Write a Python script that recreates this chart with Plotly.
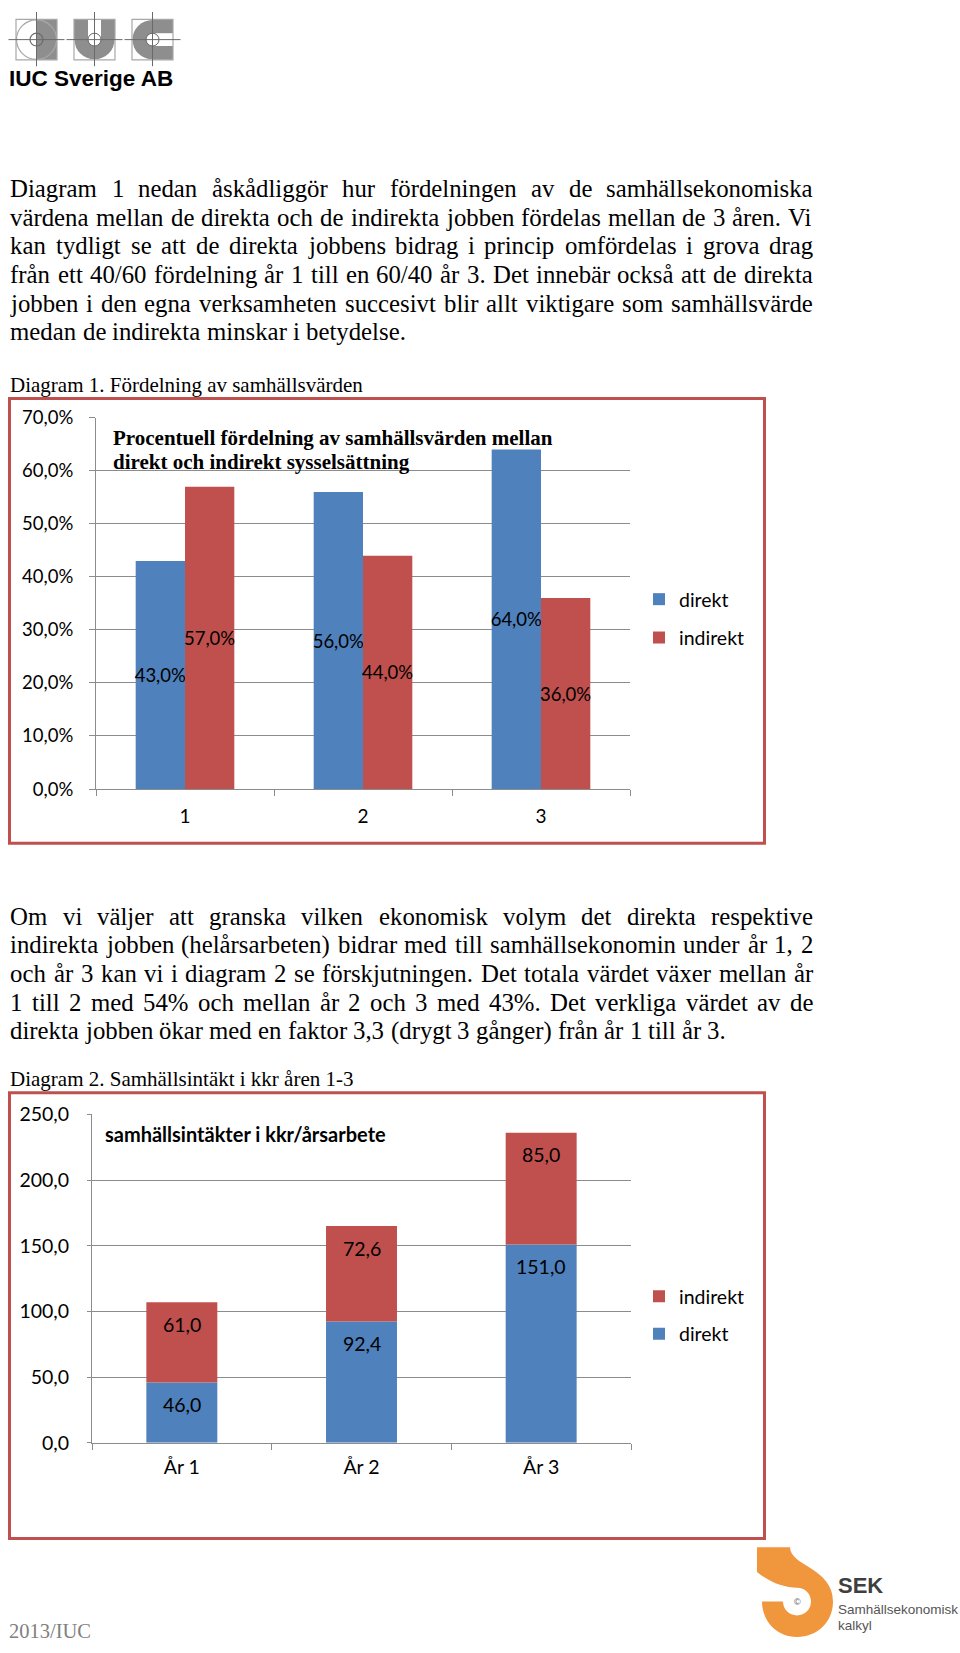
import plotly.graph_objects as go

W, H = 960, 1653

# ---------------- data ----------------
diag1_categories = ["1", "2", "3"]
diag1_direkt = [43.0, 56.0, 64.0]      # percent
diag1_indirekt = [57.0, 44.0, 36.0]    # percent
diag1_yticks = [0, 10, 20, 30, 40, 50, 60, 70]
diag1_yticktext = ["0,0%", "10,0%", "20,0%", "30,0%", "40,0%", "50,0%", "60,0%", "70,0%"]
diag1_title = ["Procentuell fördelning av samhällsvärden mellan",
               "direkt och indirekt sysselsättning"]

diag2_categories = ["År 1", "År 2", "År 3"]
diag2_direkt = [46.0, 92.4, 151.0]     # kkr
diag2_indirekt = [61.0, 72.6, 85.0]    # kkr
diag2_yticks = [0, 50, 100, 150, 200, 250]
diag2_yticktext = ["0,0", "50,0", "100,0", "150,0", "200,0", "250,0"]
diag2_title = "samhällsintäkter i kkr/årsarbete"

para1 = [
    "Diagram 1 nedan åskådliggör hur fördelningen av de samhällsekonomiska",
    "värdena mellan de direkta och de indirekta jobben fördelas mellan de 3 åren. Vi",
    "kan tydligt se att de direkta jobbens bidrag i princip omfördelas i grova drag",
    "från ett 40/60 fördelning år 1 till en 60/40 år 3. Det innebär också att de direkta",
    "jobben i den egna verksamheten succesivt blir allt viktigare som samhällsvärde",
    "medan de indirekta minskar i betydelse.",
]
para2 = [
    "Om vi väljer att granska vilken ekonomisk volym det direkta respektive",
    "indirekta jobben (helårsarbeten) bidrar med till samhällsekonomin under år 1, 2",
    "och år 3 kan vi i diagram 2 se förskjutningen. Det totala värdet växer mellan år",
    "1 till 2 med 54% och mellan år 2 och 3 med 43%. Det verkliga värdet av de",
    "direkta jobben ökar med en faktor 3,3 (drygt 3 gånger) från år 1 till år 3.",
]
caption1 = "Diagram 1. Fördelning av samhällsvärden"
caption2 = "Diagram 2. Samhällsintäkt i kkr åren 1-3"
footer = "2013/IUC"

# ---------------- styles ----------------
BLUE = "#4F81BD"
RED = "#C0504D"
GRID = "#8C8C8C"
SERIF = "Liberation Serif, Times New Roman, serif"
CHART = "Lato, Carlito, sans-serif"
SANS = "Liberation Sans, Arial, sans-serif"


def X(px):
    return px / W


def Y(py):
    return 1 - py / H


def sv(v, d=1):
    return f"{v:.{d}f}".replace(".", ",")


# Times New Roman (Liberation Serif) advance widths, per 1000 em
TIMES = {" ": 250, "!": 333, "%": 833, "(": 333, ")": 333, ",": 250, "-": 333, ".": 250,
         "/": 278, ":": 278, ";": 278,
         "A": 722, "B": 667, "C": 667, "D": 722, "E": 611, "F": 556, "G": 722, "H": 722,
         "I": 333, "J": 389, "K": 722, "L": 611, "M": 889, "N": 722, "O": 722, "P": 556,
         "Q": 722, "R": 667, "S": 556, "T": 611, "U": 722, "V": 722, "W": 944, "X": 722,
         "Y": 722, "Z": 611,
         "a": 444, "b": 500, "c": 444, "d": 500, "e": 444, "f": 333, "g": 500, "h": 500,
         "i": 278, "j": 278, "k": 500, "l": 278, "m": 778, "n": 500, "o": 500, "p": 500,
         "q": 500, "r": 333, "s": 389, "t": 278, "u": 500, "v": 500, "w": 722, "x": 500,
         "y": 500, "z": 444, "å": 444, "ä": 444, "ö": 500, "é": 444}
for dgt in "0123456789":
    TIMES[dgt] = 500


def tw(word, fs):
    return sum(TIMES.get(c, 500) for c in word) / 1000.0 * fs


annotations = []
shapes = []


def text_ann(text, x, y, size, family=SERIF, color="black", xanchor="left", bold=False):
    if bold:
        text = "<b>" + text + "</b>"
    annotations.append(dict(text=text, x=X(x), y=Y(y), xref="paper", yref="paper",
                            xanchor=xanchor, yanchor="middle", showarrow=False,
                            font=dict(family=family, size=size, color=color)))


def justified_paragraph(lines, y0, dy, fs, left=8.4, right=811.0):
    for k, line in enumerate(lines):
        y = y0 + k * dy
        words = line.split(" ")
        widths = [tw(w, fs) for w in words]
        last = (k == len(lines) - 1)
        if not last and len(words) > 1:
            gap = (right - left - sum(widths)) / (len(words) - 1)
        else:
            gap = 0.25 * fs
        x = left
        for w, wd in zip(words, widths):
            text_ann(w, x, y, fs)
            x += wd + gap


def rect(x0, y0, x1, y1, fill=None, color=None, width=0):
    shapes.append(dict(type="rect", xref="paper", yref="paper",
                       x0=X(x0), x1=X(x1), y0=Y(y1), y1=Y(y0),
                       fillcolor=fill if fill else "rgba(0,0,0,0)",
                       line=dict(color=color if color else "rgba(0,0,0,0)", width=width)))


def circ(cx, cy, r, fill=None, color=None, width=0):
    shapes.append(dict(type="circle", xref="paper", yref="paper",
                       x0=X(cx - r), x1=X(cx + r), y0=Y(cy + r), y1=Y(cy - r),
                       fillcolor=fill if fill else "rgba(0,0,0,0)",
                       line=dict(color=color if color else "rgba(0,0,0,0)", width=width)))


def seg(x0, y0, x1, y1, color, width=1):
    shapes.append(dict(type="line", xref="paper", yref="paper",
                       x0=X(x0), x1=X(x1), y0=Y(y0), y1=Y(y1),
                       line=dict(color=color, width=width)))


def path(cmds, fill):
    out = []
    for c in cmds:
        if isinstance(c, str):
            out.append(c)
        else:
            out.append(f"{X(c[0]):.5f},{Y(c[1]):.5f}")
    shapes.append(dict(type="path", xref="paper", yref="paper", path=" ".join(out),
                       fillcolor=fill, line=dict(width=0)))


# ---------------- text blocks ----------------
justified_paragraph(para1, 179.0, 29.1, 24.8)
justified_paragraph(para2, 917.0, 29.0, 24.8)
text_ann(caption1, 8.4, 378.5, 21)
text_ann(caption2, 8.4, 1082.5, 21)
text_ann(footer, 7.0, 1642.0, 20.5, color="#808080")

# chart titles
text_ann(diag1_title[0], 110.5, 432.0, 21, bold=True)
text_ann(diag1_title[1], 110.5, 456.0, 21, bold=True)
text_ann(diag2_title, 103.0, 1138.0, 20, family=CHART, bold=True)

# IUC header
text_ann("IUC Sverige AB", 7.0, 67.0, 22.5, family=SANS, bold=True)
LG = "#8E8E8E"
LL = "#A8A8A8"
LC = "#6A6A6A"
for i, cx in enumerate([36.5, 94.5, 152.5]):
    cy = 28.0
    s = 20.5
    if i == 0:
        rect(cx, cy - s, cx + s, cy + s, fill=LG)
        circ(cx, cy, 20, color=LL, width=1.2)
        circ(cx, cy, 6.5, color=LC, width=1.2)
    elif i == 1:
        rect(cx - s, cy - s, cx + s, cy, fill=LG)
        circ(cx, cy, 20, fill=LG)
        rect(cx - 6.5, cy - s, cx + 6.5, cy, fill="white")
        circ(cx, cy, 6.5, fill="white", color=LC, width=1)
    else:
        rect(cx, cy - s, cx + s, cy + s, fill=LG)
        circ(cx, cy, 20, fill=LG)
        rect(cx, cy - 6.5, cx + s, cy + 6.5, fill="white")
        circ(cx, cy, 6.5, fill="white", color=LC, width=1)
    rect(cx - s, cy - s, cx + s, cy + s, color=LL, width=1.2)
    seg(cx, 0, cx, 55, LC, 1)
    seg(cx - 28, cy, cx + 28, cy, LC, 1)

# SEK logo
ORANGE = "#F0963C"
path(["M", (757, 1557), "L", (790, 1557),
      "C", (790, 1576), (833, 1578), (833, 1612),
      "C", (833, 1633), (817, 1648), (797, 1648),
      "C", (777, 1648), (762, 1632), (762, 1612),
      "L", (783, 1612),
      "C", (783, 1620), (789, 1626), (797, 1626),
      "C", (805, 1626), (811, 1620), (811, 1612),
      "C", (811, 1604), (805, 1598), (797, 1598),
      "C", (785, 1598), (770, 1593), (757, 1582), "Z"], ORANGE)
text_ann("©", 797, 1612, 9, family=SANS, color="#555555", xanchor="center")
text_ann("<b>SEK</b>", 836, 1596, 22, family=SANS, color="#3F3F3F")
text_ann("Samhällsekonomisk", 836, 1620, 13.5, family=SANS, color="#555555")
text_ann("kalkyl", 836, 1636, 13.5, family=SANS, color="#555555")

# chart frames
rect(9.5, 392, 764.5, 843, color=RED, width=3)
rect(9.5, 1096, 764.5, 1548, color=RED, width=3)

# ---------------- traces ----------------
fig = go.Figure()

fig.add_trace(go.Bar(x=diag1_categories, y=diag1_direkt, name="direkt",
                     marker=dict(color=BLUE, line=dict(width=0)),
                     text=[sv(v) + "%" for v in diag1_direkt], textposition="inside",
                     insidetextanchor="middle", constraintext="none", textangle=0,
                     textfont=dict(family=CHART, size=18.5, color="black"),
                     xaxis="x", yaxis="y", legend="legend", legendgroup="d1",
                     legendrank=1, hoverinfo="skip"))
fig.add_trace(go.Bar(x=diag1_categories, y=diag1_indirekt, name="indirekt",
                     marker=dict(color=RED, line=dict(width=0)),
                     text=[sv(v) + "%" for v in diag1_indirekt], textposition="inside",
                     insidetextanchor="middle", constraintext="none", textangle=0,
                     textfont=dict(family=CHART, size=18.5, color="black"),
                     xaxis="x", yaxis="y", legend="legend", legendgroup="i1",
                     legendrank=2, hoverinfo="skip"))

fig.add_trace(go.Bar(x=diag2_categories, y=diag2_direkt, name="direkt",
                     marker=dict(color=BLUE, line=dict(width=0)),
                     offsetgroup="stack", width=0.395,
                     xaxis="x2", yaxis="y2", legend="legend2", legendgroup="d2",
                     legendrank=2, hoverinfo="skip"))
fig.add_trace(go.Bar(x=diag2_categories, y=diag2_indirekt, base=diag2_direkt, name="indirekt",
                     marker=dict(color=RED, line=dict(width=0)),
                     offsetgroup="stack", width=0.395,
                     xaxis="x2", yaxis="y2", legend="legend2", legendgroup="i2",
                     legendrank=1, hoverinfo="skip"))

# stacked value labels near the top of each segment
tops_direkt = diag2_direkt
tops_total = [d + i for d, i in zip(diag2_direkt, diag2_indirekt)]
for cat, top, val in zip(diag2_categories, tops_direkt, diag2_direkt):
    annotations.append(dict(text=sv(val), x=cat, y=top, xref="x2", yref="y2",
                            yshift=-22, showarrow=False, yanchor="middle",
                            font=dict(family=CHART, size=19.5, color="black")))
for cat, top, val in zip(diag2_categories, tops_total, diag2_indirekt):
    annotations.append(dict(text=sv(val), x=cat, y=top, xref="x2", yref="y2",
                            yshift=-22, showarrow=False, yanchor="middle",
                            font=dict(family=CHART, size=19.5, color="black")))

axis_common = dict(showline=True, linecolor=GRID, linewidth=1, ticks="outside",
                   tickcolor=GRID, fixedrange=True, zeroline=False)

fig.update_layout(
    width=W, height=H, margin=dict(l=0, r=0, t=0, b=0),
    paper_bgcolor="white", plot_bgcolor="white",
    barmode="group", bargap=0.446, bargroupgap=0,
    showlegend=True, hovermode=False,
    xaxis=dict(domain=[X(96), X(630)], anchor="y", type="category",
               tickson="boundaries", ticklen=6, showgrid=False,
               tickfont=dict(family=CHART, size=19, color="black"),
               ticklabelstandoff=10, **axis_common),
    yaxis=dict(domain=[Y(788), Y(411.5)], anchor="x", range=[0, 70],
               tickvals=diag1_yticks, ticktext=diag1_yticktext,
               showgrid=True, gridcolor=GRID, gridwidth=1, ticklen=6,
               tickfont=dict(family=CHART, size=18.5, color="black"),
               ticklabelstandoff=12, **axis_common),
    xaxis2=dict(domain=[X(92), X(631)], anchor="y2", type="category",
                tickson="boundaries", ticklen=6, showgrid=False,
                tickfont=dict(family=CHART, size=19.5, color="black"),
                ticklabelstandoff=7, **axis_common),
    yaxis2=dict(domain=[Y(1451), Y(1118)], anchor="x2", range=[0, 250],
                tickvals=diag2_yticks, ticktext=diag2_yticktext,
                showgrid=True, gridcolor=GRID, gridwidth=1, ticklen=4,
                tickfont=dict(family=CHART, size=19.5, color="black"),
                ticklabelstandoff=14, **axis_common),
    legend=dict(x=X(639), y=Y(576), xanchor="left", yanchor="top",
                traceorder="grouped", tracegroupgap=10, itemwidth=30,
                bgcolor="rgba(0,0,0,0)", font=dict(family=CHART, size=19.5, color="black")),
    legend2=dict(x=X(639), y=Y(1283), xanchor="left", yanchor="top",
                 traceorder="grouped", tracegroupgap=9, itemwidth=30,
                 bgcolor="rgba(0,0,0,0)", font=dict(family=CHART, size=19.5, color="black")),
    annotations=annotations,
    shapes=shapes,
)

fig.write_html("out.html")
